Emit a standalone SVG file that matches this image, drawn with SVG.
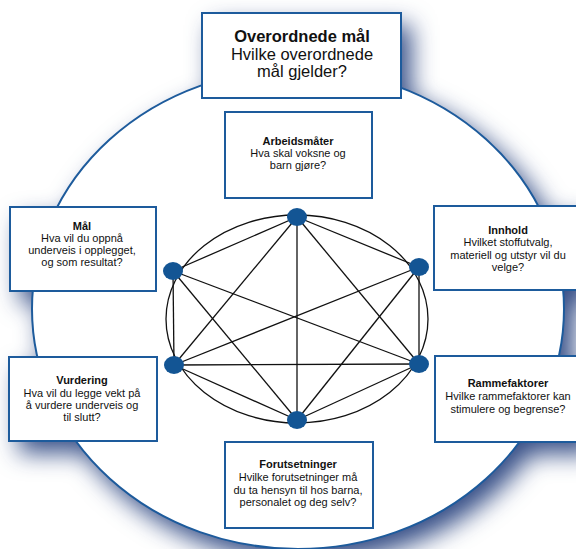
<svg xmlns="http://www.w3.org/2000/svg" width="576" height="549" viewBox="0 0 576 549">
<defs>
<filter id="shadow" x="-20%" y="-20%" width="140%" height="140%" color-interpolation-filters="sRGB">
<feGaussianBlur in="SourceAlpha" stdDeviation="12"/>
<feOffset dx="10" dy="12" result="b"/>
<feFlood flood-color="#2c4580" flood-opacity="0.95"/>
<feComposite in2="b" operator="in"/>
<feMerge><feMergeNode/><feMergeNode in="SourceGraphic"/></feMerge>
</filter>
<style>
.box{fill:#fff;stroke:#1d5b9c;stroke-width:2}
.t{font-family:"Liberation Sans",Arial,sans-serif;font-size:11px;fill:#111;text-anchor:middle}
.b{font-weight:bold}
.big{font-family:"Liberation Sans",Arial,sans-serif;font-size:16.5px;fill:#111;text-anchor:middle}
.edge{stroke:#111;stroke-width:1.3;fill:none}
.dot{fill:#135594}
</style>
</defs>
<rect width="576" height="549" fill="#fff"/>
<g id="backdrop" filter="url(#shadow)">
<rect x="202" y="13" width="199" height="85" fill="#fff"/>
<rect x="10" y="207" width="146" height="84" fill="#fff"/>
<rect x="434" y="206" width="150" height="84" fill="#fff"/>
<rect x="9" y="357" width="148" height="84" fill="#fff"/>
<rect x="435" y="356" width="150" height="86" fill="#fff"/>
<ellipse cx="298" cy="309" rx="266" ry="240" fill="#fff" stroke="#1d5b9c" stroke-width="2"/>
</g>
<ellipse cx="297" cy="319" rx="131" ry="104" class="edge"/>
<g id="connectors">
<line class="edge" x1="297" y1="217" x2="173" y2="271"/>
<line class="edge" x1="297" y1="217" x2="419" y2="267"/>
<line class="edge" x1="297" y1="217" x2="174" y2="365"/>
<line class="edge" x1="297" y1="217" x2="419" y2="364"/>
<line class="edge" x1="297" y1="217" x2="297" y2="420"/>
<line class="edge" x1="173" y1="271" x2="174" y2="365"/>
<line class="edge" x1="173" y1="271" x2="419" y2="364"/>
<line class="edge" x1="173" y1="271" x2="297" y2="420"/>
<line class="edge" x1="419" y1="267" x2="419" y2="364"/>
<line class="edge" x1="419" y1="267" x2="174" y2="365"/>
<line class="edge" x1="419" y1="267" x2="297" y2="420"/>
<line class="edge" x1="174" y1="365" x2="419" y2="364"/>
<line class="edge" x1="174" y1="365" x2="297" y2="420"/>
<line class="edge" x1="419" y1="364" x2="297" y2="420"/>
</g>
<g id="dots">
<ellipse class="dot" cx="297" cy="217" rx="10" ry="9"/>
<ellipse class="dot" cx="173" cy="271" rx="10" ry="9"/>
<ellipse class="dot" cx="419" cy="267" rx="10" ry="9"/>
<ellipse class="dot" cx="174" cy="365" rx="10" ry="9"/>
<ellipse class="dot" cx="419" cy="364" rx="10" ry="9"/>
<ellipse class="dot" cx="297" cy="420" rx="10" ry="9"/>
</g>
<g id="overordnede">
<rect class="box" x="202" y="13" width="199" height="85"/>
<text class="big b" x="302" y="42">Overordnede mål</text>
<text class="big" x="302" y="60">Hvilke overordnede</text>
<text class="big" x="302" y="77">mål gjelder?</text>
</g>
<g id="arbeidsmater">
<rect class="box" x="225" y="112" width="147" height="86"/>
<text class="t b" x="298" y="145">Arbeidsmåter</text>
<text class="t" x="298" y="157">Hva skal voksne og</text>
<text class="t" x="298" y="169">barn gjøre?</text>
</g>
<g id="maal">
<rect class="box" x="10" y="207" width="146" height="84"/>
<text class="t b" x="82" y="230">Mål</text>
<text class="t" x="82" y="242">Hva vil du oppnå</text>
<text class="t" x="82" y="254">underveis i opplegget,</text>
<text class="t" x="82" y="266">og som resultat?</text>
</g>
<g id="innhold">
<rect class="box" x="434" y="206" width="150" height="84"/>
<text class="t b" x="508" y="234">Innhold</text>
<text class="t" x="508" y="246">Hvilket stoffutvalg,</text>
<text class="t" x="508" y="259">materiell og utstyr vil du</text>
<text class="t" x="508" y="271">velge?</text>
</g>
<g id="vurdering">
<rect class="box" x="9" y="357" width="148" height="84"/>
<text class="t b" x="82" y="384">Vurdering</text>
<text class="t" x="82" y="397">Hva vil du legge vekt på</text>
<text class="t" x="82" y="409">å vurdere underveis og</text>
<text class="t" x="82" y="421">til slutt?</text>
</g>
<g id="rammefaktorer">
<rect class="box" x="435" y="356" width="150" height="86"/>
<text class="t b" x="508" y="387">Rammefaktorer</text>
<text class="t" x="508" y="400">Hvilke rammefaktorer kan</text>
<text class="t" x="508" y="413">stimulere og begrense?</text>
</g>
<g id="forutsetninger">
<rect class="box" x="225" y="442" width="148" height="86"/>
<text class="t b" x="298" y="468">Forutsetninger</text>
<text class="t" x="298" y="481">Hvilke forutsetninger må</text>
<text class="t" x="298" y="494">du ta hensyn til hos barna,</text>
<text class="t" x="298" y="506">personalet og deg selv?</text>
</g>
</svg>
